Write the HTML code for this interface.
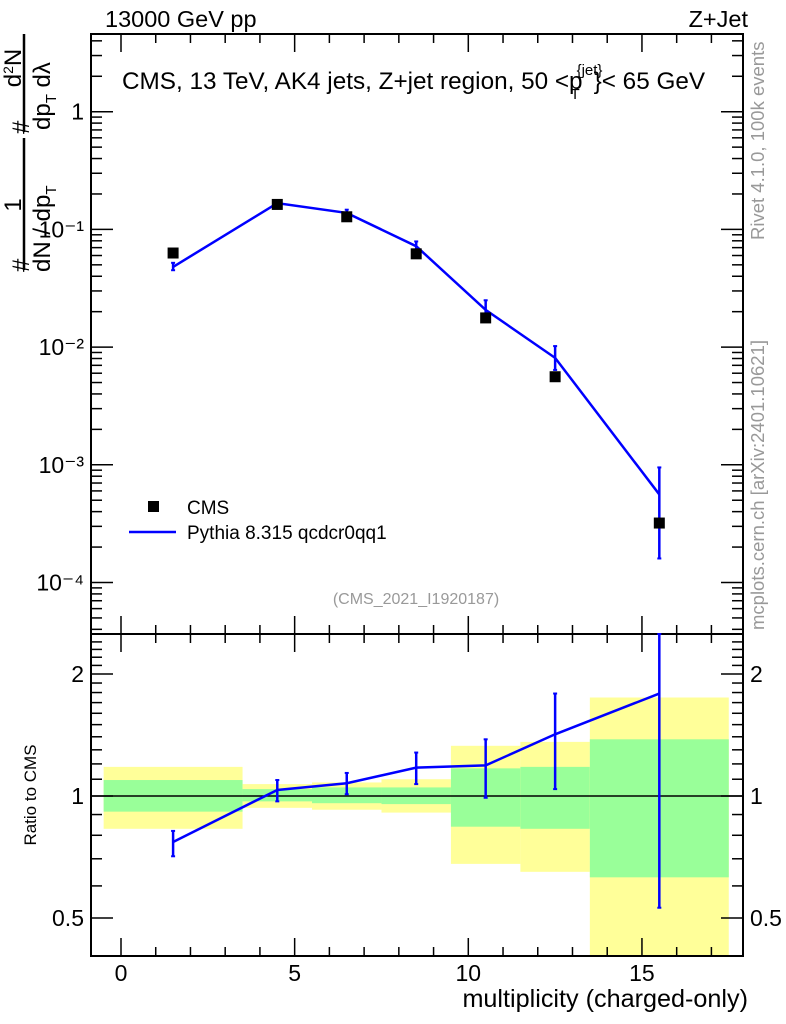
<!DOCTYPE html>
<html><head><meta charset="utf-8"><style>
html,body{margin:0;padding:0;background:#fff;}
svg{display:block;font-family:"Liberation Sans",sans-serif;}
</style></head><body>
<svg id="c" width="786" height="1024" viewBox="0 0 786 1024" xmlns="http://www.w3.org/2000/svg">
<g id="bands"></g>
<g id="axes"></g>
<g id="marks"></g>
<text x="105" y="27" font-size="23.5">13000 GeV pp</text>
<text x="748" y="27" font-size="23.5" text-anchor="end">Z+Jet</text>
<text x="122" y="89" font-size="24.3">CMS, 13 TeV, AK4 jets, Z+jet region, 50 &lt;p<tspan font-size="15" dy="-14" dx="-6">{jet}</tspan><tspan font-size="15" dy="24" dx="-32">T</tspan><tspan dy="-10" dx="14">}&lt; 65 GeV</tspan></text>
<text x="416" y="604" font-size="16" fill="#999" text-anchor="middle">(CMS_2021_I1920187)</text>
<text transform="translate(764,240) rotate(-90)" font-size="18.5" fill="#999">Rivet 4.1.0,  100k events</text>
<text transform="translate(764,630) rotate(-90)" font-size="18.5" fill="#999">mcplots.cern.ch [arXiv:2401.10621]</text>
<text x="748" y="1007" font-size="25.2" text-anchor="end">multiplicity (charged-only)</text>
<text transform="translate(36,795) rotate(-90)" font-size="17" text-anchor="middle">Ratio to CMS</text>
<g font-size="24">
<text transform="translate(29,272) rotate(-90)">#</text>
<text transform="translate(21,205) rotate(-90)" text-anchor="middle">1</text>
<line x1="24" y1="270" x2="24" y2="138" stroke="#000" stroke-width="2.5"/>
<text transform="translate(50,272) rotate(-90)">dN / dp<tspan font-size="15" dy="6">T</tspan></text>
<text transform="translate(29,134) rotate(-90)">#</text>
<text transform="translate(21,68) rotate(-90)" text-anchor="middle">d<tspan font-size="14" dy="-8">2</tspan><tspan dy="8">N</tspan></text>
<line x1="24" y1="132" x2="24" y2="34" stroke="#000" stroke-width="2.5"/>
<text transform="translate(50,130) rotate(-90)">dp<tspan font-size="15" dy="6">T</tspan><tspan dy="-6"> dλ</tspan></text>
</g>
<g>
<rect x="148" y="501" width="11" height="11" fill="#000"/>
<text x="187" y="514" font-size="19">CMS</text>
<line x1="129" y1="532" x2="176" y2="532" stroke="#00f" stroke-width="2.5"/>
<text x="187" y="539" font-size="19">Pythia 8.315 qcdcr0qq1</text>
</g>
</svg>
<script>
const xCenters=[1.5,4.5,6.5,8.5,10.5,12.5,15.5];
const binEdges=[-0.5,3.5,5.5,7.5,9.5,11.5,13.5,17.5];
const cmsVals=[0.063,0.163,0.128,0.062,0.0177,0.0056,0.00032];
const mcVals=[0.048,0.167,0.138,0.072,0.0207,0.0081,0.00056];
const mcErrUp=[0.052,0.175,0.147,0.079,0.025,0.0102,0.00095];
const mcErrDn=[0.045,0.160,0.130,0.066,0.017,0.0064,0.00016];
const ratioVals=[0.77,1.035,1.075,1.175,1.19,1.42,1.79];
const ratioUp=[0.82,1.095,1.14,1.28,1.38,1.79,3.0];
const ratioDn=[0.71,0.97,1.01,1.07,0.99,1.04,0.53];
const greenHi=[1.095,1.04,1.05,1.05,1.17,1.18,1.38];
const greenLo=[0.915,0.97,0.96,0.955,0.84,0.83,0.63];
const yellowHi=[1.18,1.07,1.08,1.1,1.33,1.36,1.75];
const yellowLo=[0.83,0.935,0.925,0.91,0.68,0.65,0.3];
const xTicks=[0,5,10,15];
const mainTickLabels=["10⁻⁴","10⁻³","10⁻²","10⁻¹","1"];
const ratioTicks=[0.5,1,2];

const L=91,R=743,T=34,MB=634,B=956;
const sx=v=>121+(v-0)*34.73;
const sy=v=>111.7-Math.log10(v)*117.7;
const ry=v=>Math.max(MB,Math.min(B,796-Math.log2(v)*122));
const NS="http://www.w3.org/2000/svg";
function mk(parent,tag,attrs){const e=document.createElementNS(NS,tag);for(const k in attrs)e.setAttribute(k,attrs[k]);document.getElementById(parent).appendChild(e);return e;}
function ln(p,x1,y1,x2,y2,c,w){return mk(p,'line',{x1,y1,x2,y2,stroke:c,'stroke-width':w});}

for(let i=0;i<binEdges.length-1;i++){
  const x1=sx(binEdges[i]),x2=sx(binEdges[i+1]);
  const y=mk('bands','rect',{x:x1,y:ry(yellowHi[i]),width:x2-x1,height:ry(yellowLo[i])-ry(yellowHi[i]),fill:'#ffff99'});
  
  
  const g=mk('bands','rect',{x:x1,y:ry(greenHi[i]),width:x2-x1,height:ry(greenLo[i])-ry(greenHi[i]),fill:'#99ff99'});
  
  
}
ln('axes',L,796,R,796,'#000',1.5);
mk('axes','rect',{x:L,y:T,width:R-L,height:MB-T,fill:'none',stroke:'#000','stroke-width':2});
mk('axes','rect',{x:L,y:MB,width:R-L,height:B-MB,fill:'none',stroke:'#000','stroke-width':2});
for(let v=0;v<=17;v++){
  const x=sx(v),maj=v%5===0,len=maj?18:9;
  [[T,1],[MB,-1],[MB,1],[B,-1]].forEach(([y0,d])=>ln('axes',x,y0,x,y0+d*len,'#000',1.5));
}
xTicks.forEach(v=>{const t=mk('axes','text',{x:sx(v),y:981,'font-size':23,'text-anchor':'middle'});t.textContent=v;

});
for(let e=-5;e<=0;e++){for(let m=1;m<10;m++){const v=m*Math.pow(10,e);const y=sy(v);if(y<T||y>MB)continue;const len=m===1?22:11;
ln('axes',L,y,L+len,y,'#000',1.5);ln('axes',R,y,R-len,y,'#000',1.5);}}
mainTickLabels.forEach((s,i)=>{const v=Math.pow(10,i-4);const t=mk('axes','text',{x:84,y:sy(v)+8,'font-size':23,'text-anchor':'end'});t.textContent=s;

});
for(let v=0.4;v<=2.5;v+=0.1){const vv=Math.round(v*10)/10;const y=796-Math.log2(vv)*122;if(y<MB||y>B)continue;const maj=(vv===0.5||vv===1||vv===2);const len=maj?22:11;
ln('axes',L,y,L+len,y,'#000',1.5);ln('axes',R,y,R-len,y,'#000',1.5);}
ratioTicks.forEach(v=>{const y=796-Math.log2(v)*122+8;
const a=mk('axes','text',{x:84,y,'font-size':23,'text-anchor':'end'});a.textContent=v;


const b=mk('axes','text',{x:750,y,'font-size':23});b.textContent=v;

});

const pts=xCenters.map((x,i)=>sx(x)+','+sy(mcVals[i])).join(' ');
const pl=mk('marks','polyline',{points:pts,fill:'none',stroke:'#00f','stroke-width':2.5});


xCenters.forEach((x,i)=>{const X=sx(x);
const e=ln('marks',X,sy(mcErrUp[i]),X,sy(mcErrDn[i]),'#00f',2.5);


ln('marks',X-2,sy(mcErrUp[i]),X+2,sy(mcErrUp[i]),'#00f',2);ln('marks',X-2,sy(mcErrDn[i]),X+2,sy(mcErrDn[i]),'#00f',2);
const r=mk('marks','rect',{x:X-5.5,y:sy(cmsVals[i])-5.5,width:11,height:11,fill:'#000'});


});
const rpts=xCenters.map((x,i)=>sx(x)+','+ry(ratioVals[i])).join(' ');
const rl=mk('marks','polyline',{points:rpts,fill:'none',stroke:'#00f','stroke-width':2.5});


xCenters.forEach((x,i)=>{const X=sx(x);const yu=ry(ratioUp[i]),yd=ry(ratioDn[i]);
const e=ln('marks',X,yu,X,yd,'#00f',2.5);


ln('marks',X-2,yu,X+2,yu,'#00f',2);ln('marks',X-2,yd,X+2,yd,'#00f',2);});
</script>
</body></html>
